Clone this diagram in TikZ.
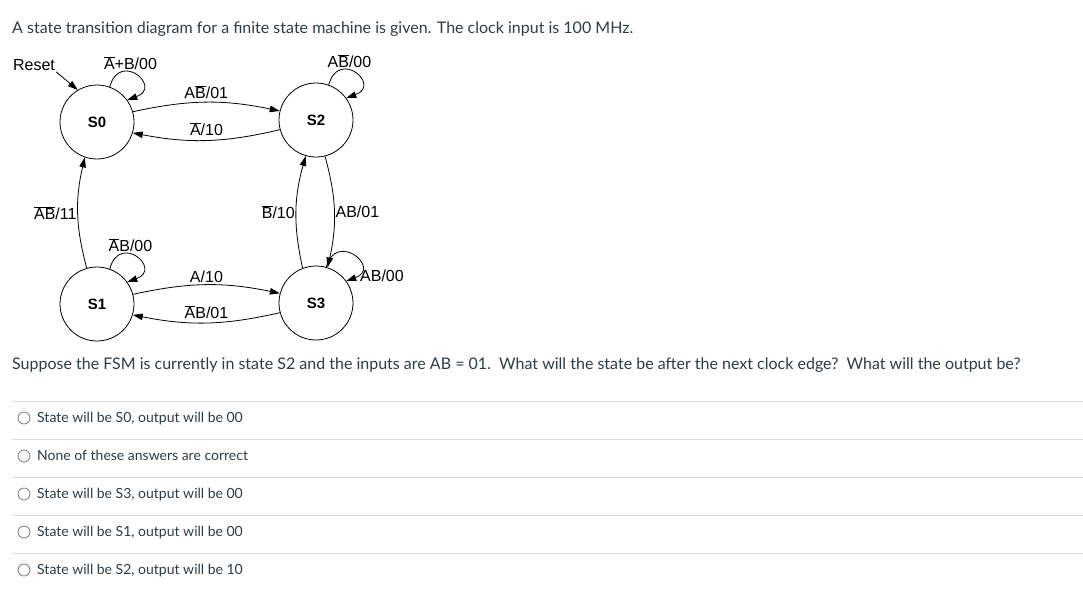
\documentclass[tikz,border=0pt]{standalone}
\usepackage{fontspec}
\setmainfont{Lato}
\newfontfamily\diagfont{Liberation Sans}
\usetikzlibrary{arrows.meta}
\definecolor{canvastext}{HTML}{2D3B45}
\definecolor{rulegray}{HTML}{D9DCDF}
\definecolor{radiogray}{HTML}{737A80}
\newcommand{\nb}[1]{$\overline{\mbox{#1}}$}

\begin{document}
\begin{tikzpicture}[x=1pt, y=-1pt,
    state/.style = {draw, circle, line width=0.8pt, minimum size=74pt, inner sep=0pt,
                    font=\diagfont\bfseries\fontsize{15}{18}\selectfont},
    lbl/.style   = {font=\diagfont\fontsize{16}{18}\selectfont, inner sep=1pt},
    trans/.style = {line width=0.8pt, -{Triangle[length=10pt,width=6.5pt]}},
    txt/.style   = {anchor=base west, text=canvastext, inner sep=0pt,
                    font=\fontsize{16}{19}\selectfont},
    opt/.style   = {anchor=base west, text=canvastext, inner sep=0pt,
                    font=\fontsize{14}{17}\selectfont},
    radio/.style = {draw=radiogray, circle, line width=0.8pt, minimum size=12pt, inner sep=0pt}
  ]
  \useasboundingbox (0,0) rectangle (1083,611);

  \node [txt] (title) at (12,33)
    {A state transition diagram for a finite state machine is given. The clock input is 100 MHz.};

  % states
  \node [state] (s0) at (97,122) {S0};
  \node [state] (s2) at (316,120) {S2};
  \node [state] (s1) at (97,304) {S1};
  \node [state] (s3) at (316,303) {S3};

  % reset
  \node [lbl] (reset) at (34,65) {Reset};
  \draw [trans] (reset.south east) -- (s0.121);

  % self loops
  \draw [trans] (s0.70) .. controls +(75:38pt) and +(20:38pt) .. (s0.36)
    node [lbl, pos=0.4, above=1pt] (l00) {\nb{A}+B/00};
  \draw [trans] (s2.70) .. controls +(75:38pt) and +(20:38pt) .. (s2.36)
    node [lbl, pos=0.4, above=1pt] (l22) {A\nb{B}/00};
  \draw [trans] (s1.70) .. controls +(75:38pt) and +(20:38pt) .. (s1.36)
    node [lbl, pos=0.4, above=1pt] (l11) {\nb{A}B/00};
  \draw [trans] (s3.74) .. controls +(75:38pt) and +(20:38pt) .. (s3.36)
    node [lbl, pos=0.88, right=3pt] (l33) {AB/00};

  % horizontal transitions
  \draw [trans] (s0.16) to [bend left=12] node [lbl, above=2pt] (l02) {A\nb{B}/01} (s2.166);
  \draw [trans] (s2.195) to [bend left=12] node [lbl, above=3pt] (l20) {\nb{A}/10} (s0.-17);
  \draw [trans] (s1.15) to [bend left=12] node [lbl, above=1pt] (l13) {A/10} (s3.165);
  \draw [trans] (s3.195) to [bend left=12] node [lbl, above=3pt] (l31) {\nb{A}B/01} (s1.-17);

  % vertical transitions
  \draw [trans] (s1.106) to [bend left=14] node [lbl, left] (l10) {\nb{A}\nb{B}/11} (s0.251);
  \draw [trans] (s3.111) to [bend left=14] node [lbl, left] (l32) {\nb{B}/10} (s2.254);
  \draw [trans] (s2.284) to [bend left=14] node [lbl, right] (l23) {AB/01} (s3.72);

  \node [txt] (question) at (12,369)
    {Suppose the FSM is currently in state S2 and the inputs are AB = 01.\ \ What will the state be after the next clock edge?\ \ What will the output be?};

  % answers
  \foreach \y in {401,439,477,515,553}
    \draw [rulegray, line width=0.8pt] (12,\y) -- (1083,\y);
  \foreach \t [count=\i] in {{State will be S0, output will be 00},
                             {None of these answers are correct},
                             {State will be S3, output will be 00},
                             {State will be S1, output will be 00},
                             {State will be S2, output will be 10}} {
    \node [radio] (radio\i) at (24,380+38*\i) {};
    \node [opt] (answer\i) at (37,384.5+38*\i) {\t};
  }
\end{tikzpicture}
\end{document}
